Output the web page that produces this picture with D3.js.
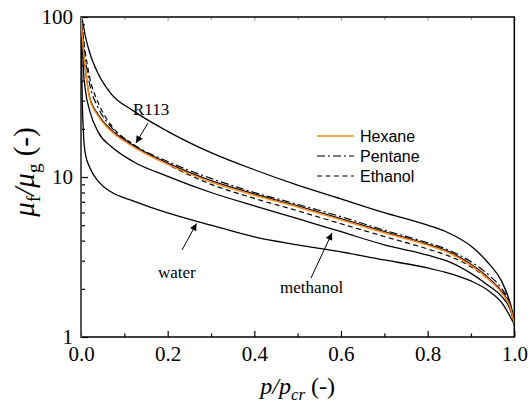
<!DOCTYPE html>
<html><head><meta charset="utf-8">
<script src="https://cdn.jsdelivr.net/npm/d3@7"></script>
<style>body{margin:0;background:#fff}</style>
</head><body><svg id="c" width="530" height="403"></svg>
<script>
// reduced pressure grid p/pcr
const pr       = [0, 0.001, 0.003, 0.006, 0.01, 0.02, 0.04, 0.07, 0.12, 0.2, 0.3, 0.4, 0.5, 0.6, 0.7, 0.8, 0.85, 0.9, 0.94, 0.97, 0.99, 1.0];
// viscosity ratio mu_f/mu_g for each fluid
const upperFluid = [100, 99, 95, 87, 76, 60, 44, 33, 26, 19.3, 14.2, 11.1, 8.9, 7.3, 5.98, 5.0, 4.45, 3.7, 2.9, 2.25, 1.65, 1.28];
const r113     = [100, 88, 73, 58, 47, 31.5, 24.5, 19.7, 15.8, 12.2, 9.5, 7.85, 6.6, 5.5, 4.55, 3.8, 3.4, 2.85, 2.35, 1.93, 1.57, 1.22];
const methanol = [100, 90, 68, 45, 35, 26, 19, 15.5, 12.5, 10.1, 8.0, 6.6, 5.5, 4.55, 3.77, 3.25, 2.95, 2.5, 2.1, 1.8, 1.5, 1.22];
const water    = [100, 60, 30, 18, 14, 11.5, 9.4, 8.05, 7.1, 5.96, 5.0, 4.22, 3.76, 3.40, 3.03, 2.70, 2.5, 2.24, 1.95, 1.65, 1.35, 1.2];
const hexane   = [100, 90, 75, 60, 48, 31, 24, 19.3, 15.5, 12.0, 9.3, 7.7, 6.5, 5.4, 4.48, 3.75, 3.35, 2.8, 2.3, 1.9, 1.55, 1.22];
const pentane  = [100, 92, 80, 67, 55, 38, 27, 20.5, 16, 12.5, 9.8, 8.0, 6.75, 5.65, 4.65, 3.88, 3.48, 2.95, 2.45, 2.02, 1.62, 1.22];
const ethanol  = [100, 93, 83, 72, 60, 42, 29, 21, 16, 12.0, 9.0, 7.35, 6.15, 5.1, 4.25, 3.55, 3.2, 2.75, 2.3, 1.95, 1.6, 1.22];

const xMajor = [0, 0.2, 0.4, 0.6, 0.8, 1.0];
const xMinor = [0.1, 0.3, 0.5, 0.7, 0.9];
const yMajor = [1, 10, 100];
const yMinor = [2,3,4,5,6,7,8,9,20,30,40,50,60,70,80,90];
const legendNames = ["Hexane", "Pentane", "Ethanol"];

const L = 81, R = 514.3, T = 17, B = 337;
const svg = d3.select("#c");
const x = d3.scaleLinear().domain([0, 1]).range([L, R]);
const y = d3.scaleLog().domain([1, 100]).range([B, T]);

svg.append("defs").append("clipPath").attr("id", "clip")
  .append("rect").attr("x", L).attr("y", T).attr("width", R - L).attr("height", B - T);
const mk = svg.select("defs").append("marker").attr("id", "arr")
  .attr("viewBox", "0 0 10 10").attr("refX", 10).attr("refY", 5)
  .attr("markerWidth", 9).attr("markerHeight", 7).attr("markerUnits", "userSpaceOnUse")
  .attr("orient", "auto");
mk.append("path").attr("d", "M0,0 L10,5 L0,10 z").attr("fill", "#000");

const serif = "'Liberation Serif','Times New Roman',serif";
const sans = "'Liberation Sans',Arial,sans-serif";

// axes
function styleAxis(g) {
  g.select(".domain").remove();
  g.selectAll("line").attr("stroke", "#000").attr("stroke-width", 1.2);
  g.selectAll("text").attr("font-family", serif).attr("font-size", 21).attr("fill", "#000");
}
svg.append("g").attr("transform", `translate(0,${B})`)
  .call(d3.axisBottom(x).tickValues(xMajor).tickSize(-6).tickPadding(9).tickFormat(d3.format(".1f")))
  .call(styleAxis);
svg.append("g").attr("transform", `translate(0,${B})`)
  .call(d3.axisBottom(x).tickValues(xMinor).tickSize(-3.5).tickFormat(""))
  .call(styleAxis);
svg.append("g").attr("transform", `translate(0,${T})`)
  .call(d3.axisTop(x).tickValues(xMajor).tickSize(-4).tickFormat(""))
  .call(styleAxis).selectAll("line").attr("stroke", "#aaa");
svg.append("g").attr("transform", `translate(0,${T})`)
  .call(d3.axisTop(x).tickValues(xMinor).tickSize(-3).tickFormat(""))
  .call(styleAxis).selectAll("line").attr("stroke", "#aaa");
svg.append("g").attr("transform", `translate(${L},0)`)
  .call(d3.axisLeft(y).tickValues(yMajor).tickSize(-7).tickPadding(8).tickFormat(d3.format("d")))
  .call(styleAxis);
svg.append("g").attr("transform", `translate(${L},0)`)
  .call(d3.axisLeft(y).tickValues(yMinor).tickSize(-4).tickFormat(""))
  .call(styleAxis);

// frame
svg.append("rect").attr("x", L).attr("y", T).attr("width", R - L).attr("height", B - T)
  .attr("fill", "none").attr("stroke", "#000").attr("stroke-width", 1.5);
svg.append("line").attr("x1", L).attr("x2", L).attr("y1", T).attr("y2", B + 1)
  .attr("stroke", "#555").attr("stroke-width", 2);

// curves
const line = d3.line().x((d, i) => x(pr[i])).y(d => y(d)).curve(d3.curveMonotoneX);
const series = [
  {v: upperFluid, c: "#000", w: 1.3, dash: null},
  {v: water, c: "#000", w: 1.3, dash: null},
  {v: methanol, c: "#000", w: 1.3, dash: null},
  {v: r113, c: "#000", w: 1.3, dash: null},
  {v: ethanol, c: "#000", w: 1.2, dash: "5,3.5"},
  {v: pentane, c: "#000", w: 1.2, dash: "8,3,2,3"},
  {v: hexane, c: "#ff8a12", w: 1.5, dash: null}
];
const cg = svg.append("g").attr("clip-path", "url(#clip)");
series.forEach(s => {
  cg.append("path").attr("d", line(s.v)).attr("fill", "none")
    .attr("stroke", s.c).attr("stroke-width", s.w)
    .attr("stroke-dasharray", s.dash);
});

// legend
const leg = [
  {c: "#ff8a12", dash: null, w: 1.5},
  {c: "#000", dash: "8,3,2,3", w: 1.2},
  {c: "#000", dash: "5,3.5", w: 1.2}
];
legendNames.forEach((n, i) => {
  const yy = 136 + i * 20;
  svg.append("line").attr("x1", 317).attr("x2", 354).attr("y1", yy).attr("y2", yy)
    .attr("stroke", leg[i].c).attr("stroke-width", leg[i].w).attr("stroke-dasharray", leg[i].dash);
  svg.append("text").attr("x", 360).attr("y", yy + 6).text(n)
    .attr("font-family", sans).attr("font-size", 16).attr("fill", "#000");
});

// annotations
const ann = [
  {t: "R113", tx: 133, ty: 115, x1: 148, y1: 123, x2: 136, y2: 143},
  {t: "water", tx: 158, ty: 278, x1: 182, y1: 250, x2: 196.5, y2: 223.5},
  {t: "methanol", tx: 280, ty: 293, x1: 311, y1: 278, x2: 332, y2: 233}
];
ann.forEach(a => {
  svg.append("text").attr("x", a.tx).attr("y", a.ty).text(a.t)
    .attr("font-family", serif).attr("font-size", 17).attr("fill", "#000");
  svg.append("line").attr("x1", a.x1).attr("y1", a.y1).attr("x2", a.x2).attr("y2", a.y2)
    .attr("stroke", "#000").attr("stroke-width", 1).attr("marker-end", "url(#arr)");
});

// axis titles
const xt = svg.append("text").attr("x", (L + R) / 2).attr("y", 394).attr("text-anchor", "middle")
  .attr("font-family", serif).attr("font-size", 24).attr("fill", "#000");
xt.append("tspan").attr("font-style", "italic").text("p/p");
xt.append("tspan").attr("font-style", "italic").attr("font-size", 17).attr("dy", 6).text("cr");
xt.append("tspan").attr("dy", -6).text(" (-)");

const yt = svg.append("text").attr("transform", `translate(34,${172}) rotate(-90)`)
  .attr("text-anchor", "middle").attr("font-family", serif).attr("font-size", 29).attr("fill", "#000");
yt.append("tspan").attr("font-style", "italic").text("μ");
yt.append("tspan").attr("font-size", 19).attr("dy", 6).text("f");
yt.append("tspan").attr("dy", -6).attr("font-style", "italic").text("/μ");
yt.append("tspan").attr("font-size", 19).attr("dy", 6).text("g");
yt.append("tspan").attr("dy", -6).text(" (-)");
</script></body></html>
